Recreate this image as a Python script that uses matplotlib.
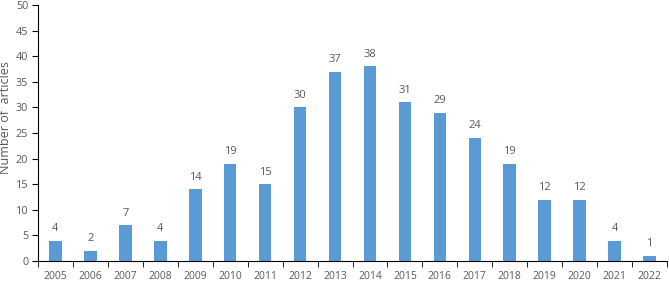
import numpy as np
import matplotlib.pyplot as plt

plt.rcParams["font.family"] = "Open Sans"

years = ["2005", "2006", "2007", "2008", "2009", "2010", "2011", "2012", "2013",
         "2014", "2015", "2016", "2017", "2018", "2019", "2020", "2021", "2022"]
counts = [4, 2, 7, 4, 14, 19, 15, 30, 37, 38, 31, 29, 24, 19, 12, 12, 4, 1]

text_col = "#595959"

fig = plt.figure(figsize=(6.69, 2.81), dpi=100)
ax = fig.add_axes([38 / 669, 20 / 281, 629 / 669, 256 / 281])

x = np.arange(len(years))
bars = ax.bar(x, counts, width=0.36, color="#5B9BD5")
for xi, v in zip(x, counts):
    ax.text(xi, v + 1.3, str(v), ha="center", va="bottom", fontsize=8, color=text_col)

ax.set_xlim(-0.5, len(years) - 0.5)
ax.set_ylim(0, 50)
ax.set_yticks(range(0, 51, 5))
ax.set_xticks(x)
ax.set_xticklabels(years)
ax.set_xticks(np.arange(-0.5, len(years), 1), minor=True)
ax.tick_params(axis="x", which="major", length=0, labelsize=7.5, colors=text_col, pad=7)
ax.tick_params(axis="x", which="minor", length=4, direction="out", color="black")
ax.tick_params(axis="y", length=4, direction="out", labelsize=7.8, labelcolor=text_col, pad=3)
ax.set_ylabel("Number of  articles", fontsize=9, color=text_col)
ax.yaxis.set_label_coords(-0.042, 0.56)

ax.spines["top"].set_visible(False)
ax.spines["right"].set_visible(False)

plt.savefig("out.png", dpi=100)
